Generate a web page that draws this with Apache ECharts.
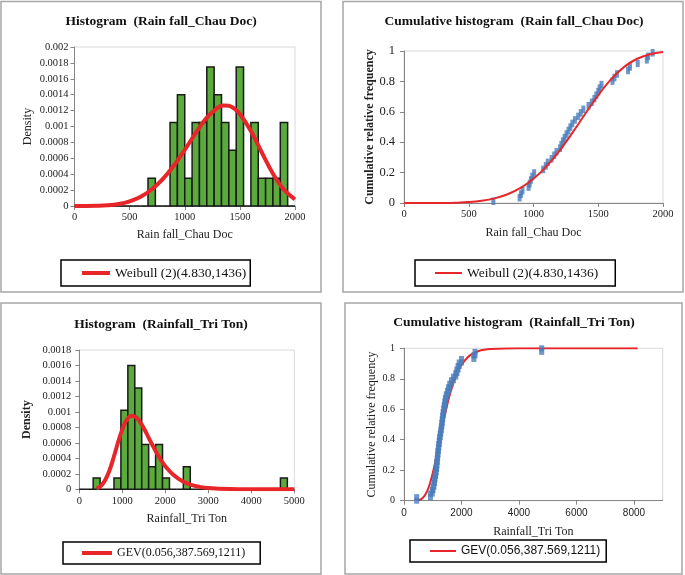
<!DOCTYPE html>
<html><head><meta charset="utf-8">
<script src="https://cdn.jsdelivr.net/npm/echarts@6/dist/echarts.min.js"></script>
<style>html,body{margin:0;padding:0;background:#fff}#c{width:685px;height:575px}</style>
</head><body><div id="c"></div>
<script>
// ---------- DATA ----------
const weibullLabel = 'Weibull (2)(4.830,1436)';
const gevLabel = 'GEV(0.056,387.569,1211)';

// Chau Doc histogram: 30 bins from 0 to 2000
const chauDocBinStart = 0;
const chauDocBinWidth = 2000 / 30;
const chauDocDensity = [0,0,0,0,0,0,0,0,0,0,
  0.00035,0,0,0.00105,0.0014,0.00035,0.00105,0.00105,0.00175,0.0014,
  0.00105,0.0007,0.00175,0,0.00105,0.00035,0.00035,0.00035,0.00105,0];
// Weibull fitted density
const chauDocPdfX = [0,100,200,300,400,500,600,700,800,900,1000,1100,1200,1300,1350,1400,1450,1500,1600,1700,1800,1900,2000];
const chauDocPdf = [0,0.0000001,0.0000018,0.0000084,0.0000251,0.0000588,0.0001171,0.000208,0.0003373,0.0005061,0.0007068,0.0009196,0.001111,0.001238,0.0012641,0.00126,0.0012241,0.0011566,0.0009429,0.00067,0.0004067,0.0002056,0.0000845];
// Weibull fitted cumulative
const chauDocCdfX = [0,100,200,300,400,500,600,700,800,900,1000,1100,1200,1300,1400,1500,1600,1700,1800,1900,2000];
const chauDocCdf = [0,0,0.0001,0.0005,0.0021,0.0061,0.0147,0.0306,0.0576,0.0994,0.1598,0.2412,0.343,0.4612,0.5871,0.709,0.8147,0.8956,0.9491,0.9791,0.9929];
// Chau Doc observations (sorted)
const chauDocRain = [690,893,903,915,962,970,980,990,1005,1075,1095,1110,1140,1160,1178,1205,1215,1228,1240,1255,1270,1285,1300,1320,1345,1365,1385,1425,1450,1470,1485,1500,1510,1525,1610,1625,1645,1730,1745,1805,1875,1885,1920];

// Tri Ton histogram: 31 bins from 0 to 5000
const triTonBinStart = 0;
const triTonBinWidth = 5000 / 31;
const triTonDensity = [0,0,0.000146,0,0,0.000146,0.00102,0.0016,0.00131,0.00058,
  0.00029,0.00058,0.000146,0,0,0.00029,0,0,0,0,
  0,0,0,0,0,0,0,0,0,0.000146,0];
// GEV fitted density
const triTonPdfX = [400,500,600,700,800,900,1000,1100,1200,1300,1400,1500,1600,1700,1800,1900,2000,2200,2400,2600,2800,3000,3500,4000,5000];
const triTonPdf = [0.0000121,0.0000434,0.0001159,0.0002419,0.0004142,0.0006044,0.0007746,0.0008935,0.0009473,0.000938,0.0008791,0.0007881,0.0006816,0.0005726,0.0004697,0.0003777,0.0002989,0.00018,0.0001039,0.000058,0.0000315,0.0000166,0.000003,0.0000005,0];
// GEV fitted cumulative
const triTonCdfX = [500,600,700,800,900,1000,1100,1200,1300,1400,1500,1600,1700,1800,1900,2000,2200,2400,2600,2800,3000,3500,4000,5000,6000,7000,8130];
const triTonCdf = [0.0032,0.0108,0.0282,0.0607,0.1117,0.1809,0.2648,0.3574,0.4522,0.5434,0.627,0.7005,0.7632,0.8152,0.8575,0.8912,0.9383,0.9661,0.9819,0.9906,0.9952,0.9992,0.9999,1,1,1,1];
// Tri Ton observations (sorted)
const triTonRain = [440,920,985,1010,1040,1060,1080,1100,1120,1135,1145,1155,1170,1180,1195,1210,1225,1240,1260,1280,1300,1315,1330,1345,1360,1380,1400,1420,1440,1470,1510,1550,1590,1650,1720,1800,1840,1880,1920,2000,2430,2470,4790];

// ---------- STYLE ----------
const SERIF = '"Liberation Serif", "Times New Roman", serif';
const SANS = '"Liberation Sans", Arial, sans-serif';
const GREEN = '#5BAA3C';
const RED = '#E8262A';
const BLUE = '#4A7EBB';
const AXIS = '#868686';
const plain = v => String(v);

function zip(xs, ys) { return xs.map((x, i) => [x, ys[i]]); }
function ecdf(vals) {
  const s = vals.slice().sort((a, b) => a - b), n = s.length, out = [];
  s.forEach((v, i) => { out.push([v, i / n]); out.push([v, (i + 1) / n]); });
  return out;
}
function histSeries(ai, start, width, dens) {
  return {
    type: 'custom', xAxisIndex: ai, yAxisIndex: ai, silent: true, z: 2,
    data: dens.map((d, k) => [start + k * width, start + (k + 1) * width, d]),
    encode: { x: [0, 1], y: 2 },
    renderItem: (params, api) => {
      const p0 = api.coord([api.value(0), api.value(2)]);
      const p1 = api.coord([api.value(1), 0]);
      return { type: 'rect', shape: { x: p0[0], y: p0[1], width: p1[0] - p0[0], height: p1[1] - p0[1] },
        style: { fill: GREEN, stroke: '#1a1a1a', lineWidth: 1.5 } };
    }
  };
}
function xAx(gi, min, max, interval, name, gap, fam, extra) {
  return Object.assign({
    type: 'value', gridIndex: gi, min, max, interval,
    name, nameLocation: 'middle', nameGap: gap,
    nameTextStyle: { fontFamily: SERIF, fontSize: 12, color: '#222' },
    axisLine: { show: true, onZero: false, lineStyle: { color: AXIS, width: 1 } },
    axisTick: { show: true, length: 4, lineStyle: { color: AXIS } },
    axisLabel: { fontFamily: fam, fontSize: 10.5, color: '#222', margin: 6, formatter: plain },
    splitLine: { show: false }
  }, extra || {});
}
function yAx(gi, min, max, interval, name, gap, fam, bold, labelSize, margin) {
  return {
    type: 'value', gridIndex: gi, min, max, interval,
    name, nameLocation: 'middle', nameGap: gap, nameRotate: 90,
    nameTextStyle: { fontFamily: SERIF, fontSize: 12, color: '#222', fontWeight: bold ? 'bold' : 'normal' },
    axisLine: { show: true, onZero: false, lineStyle: { color: AXIS, width: 1 } },
    axisTick: { show: true, length: 4, lineStyle: { color: AXIS } },
    axisLabel: { fontFamily: fam, fontSize: labelSize, color: '#222', margin: margin, formatter: plain },
    splitLine: { show: false }
  };
}
function panel(x, y, w, h) {
  return { type: 'rect', silent: true, shape: { x, y, width: w, height: h },
    style: { fill: 'none', stroke: '#a6a6a6', lineWidth: 1.5 } };
}
function ttl(x, y, text) {
  return { type: 'text', silent: true, x, y,
    style: { text, font: 'bold 13.5px ' + SERIF, fill: '#111',
      textAlign: 'center', textVerticalAlign: 'middle', align: 'center', verticalAlign: 'middle' } };
}
function leg(left, top, name, iw, ih, pad, fam, fs) {
  return { left, top, orient: 'horizontal', selectedMode: false,
    data: [{ name, icon: 'rect' }], itemWidth: iw, itemHeight: ih, padding: pad,
    borderColor: '#000', borderWidth: 1.5, backgroundColor: '#fff',
    textStyle: { fontFamily: fam, fontSize: fs, color: '#111' } };
}

const gridBorder = { show: true, borderColor: '#d9d9d9', borderWidth: 1, backgroundColor: 'transparent' };

const option = {
  animation: false,
  backgroundColor: '#fff',
  grid: [
    Object.assign({ left: 74.5, top: 47, width: 220.5, height: 159 }, gridBorder),
    Object.assign({ left: 404, top: 51, width: 259, height: 152 }, gridBorder),
    Object.assign({ left: 79.3, top: 350, width: 215, height: 139.3 }, gridBorder),
    Object.assign({ left: 404, top: 348.3, width: 258.7, height: 152.4 }, gridBorder)
  ],
  xAxis: [
    xAx(0, 0, 2000, 500, 'Rain fall_Chau Doc', 23, SERIF),
    xAx(1, 0, 2000, 500, 'Rain fall_Chau Doc', 24, SERIF),
    xAx(2, 0, 5000, 1000, 'Rainfall_Tri Ton', 24, SERIF),
    xAx(3, 0, 9000, 2000, 'Rainfall_Tri Ton', 25, SANS, {
      axisLabel: { fontFamily: SANS, fontSize: 10, color: '#222', margin: 8, showMaxLabel: false, formatter: plain } })
  ],
  yAxis: [
    yAx(0, 0, 0.002, 0.0002, 'Density', 41, SERIF, false, 10.5, 6),
    yAx(1, 0, 1, 0.2, 'Cumulative relative frequency', 28, SERIF, true, 12.5, 9),
    yAx(2, 0, 0.0018, 0.0002, 'Density', 46, SERIF, true, 10.5, 8),
    yAx(3, 0, 1, 0.2, 'Cumulative relative frequency', 26, SERIF, false, 10, 9)
  ],
  legend: [
    leg(61, 260, weibullLabel, 28, 4, [6, 4, 6, 21], SERIF, 13.5),
    leg(415, 260, weibullLabel, 27, 2, [6, 17, 6, 20], SERIF, 13.5),
    leg(63, 542, gevLabel, 30, 4, [5, 15, 5, 19], SERIF, 12),
    leg(410, 540, gevLabel, 26, 2, [5, 6, 5, 20], SANS, 12)
  ],
  graphic: [
    panel(1, 1.5, 320, 290.5),
    panel(343, 1.5, 340, 290.5),
    panel(1, 303, 320, 271),
    panel(345, 303, 337, 271),
    ttl(161, 22, 'Histogram  (Rain fall_Chau Doc)'),
    ttl(514, 22, 'Cumulative histogram  (Rain fall_Chau Doc)'),
    ttl(161, 325, 'Histogram  (Rainfall_Tri Ton)'),
    ttl(514, 323, 'Cumulative histogram  (Rainfall_Tri Ton)')
  ],
  series: [
    histSeries(0, chauDocBinStart, chauDocBinWidth, chauDocDensity),
    { type: 'line', name: weibullLabel, xAxisIndex: 0, yAxisIndex: 0, z: 3, silent: true,
      data: zip(chauDocPdfX, chauDocPdf), smooth: 0.4, showSymbol: false, symbol: 'none',
      itemStyle: { color: RED }, lineStyle: { color: RED, width: 4 } },

    { type: 'scatter', xAxisIndex: 1, yAxisIndex: 1, z: 2, silent: true,
      data: ecdf(chauDocRain), symbol: 'rect', symbolSize: [4, 4], itemStyle: { color: BLUE } },
    { type: 'line', name: weibullLabel, xAxisIndex: 1, yAxisIndex: 1, z: 3, silent: true,
      data: zip(chauDocCdfX, chauDocCdf), smooth: 0.4, showSymbol: false, symbol: 'none',
      itemStyle: { color: RED }, lineStyle: { color: RED, width: 2 } },

    histSeries(2, triTonBinStart, triTonBinWidth, triTonDensity),
    { type: 'line', name: gevLabel, xAxisIndex: 2, yAxisIndex: 2, z: 3, silent: true,
      data: zip(triTonPdfX, triTonPdf), smooth: 0.4, showSymbol: false, symbol: 'none',
      itemStyle: { color: RED }, lineStyle: { color: RED, width: 4 } },

    { type: 'line', name: gevLabel, xAxisIndex: 3, yAxisIndex: 3, z: 2, silent: true,
      data: zip(triTonCdfX, triTonCdf), smooth: 0.4, showSymbol: false, symbol: 'none',
      itemStyle: { color: RED }, lineStyle: { color: RED, width: 2 } },
    { type: 'scatter', xAxisIndex: 3, yAxisIndex: 3, z: 3, silent: true,
      data: ecdf(triTonRain), symbol: 'rect', symbolSize: [5, 6], itemStyle: { color: BLUE } }
  ]
};

const chart = echarts.init(document.getElementById('c'), null, { renderer: 'canvas' });
chart.setOption(option);
</script></body></html>
